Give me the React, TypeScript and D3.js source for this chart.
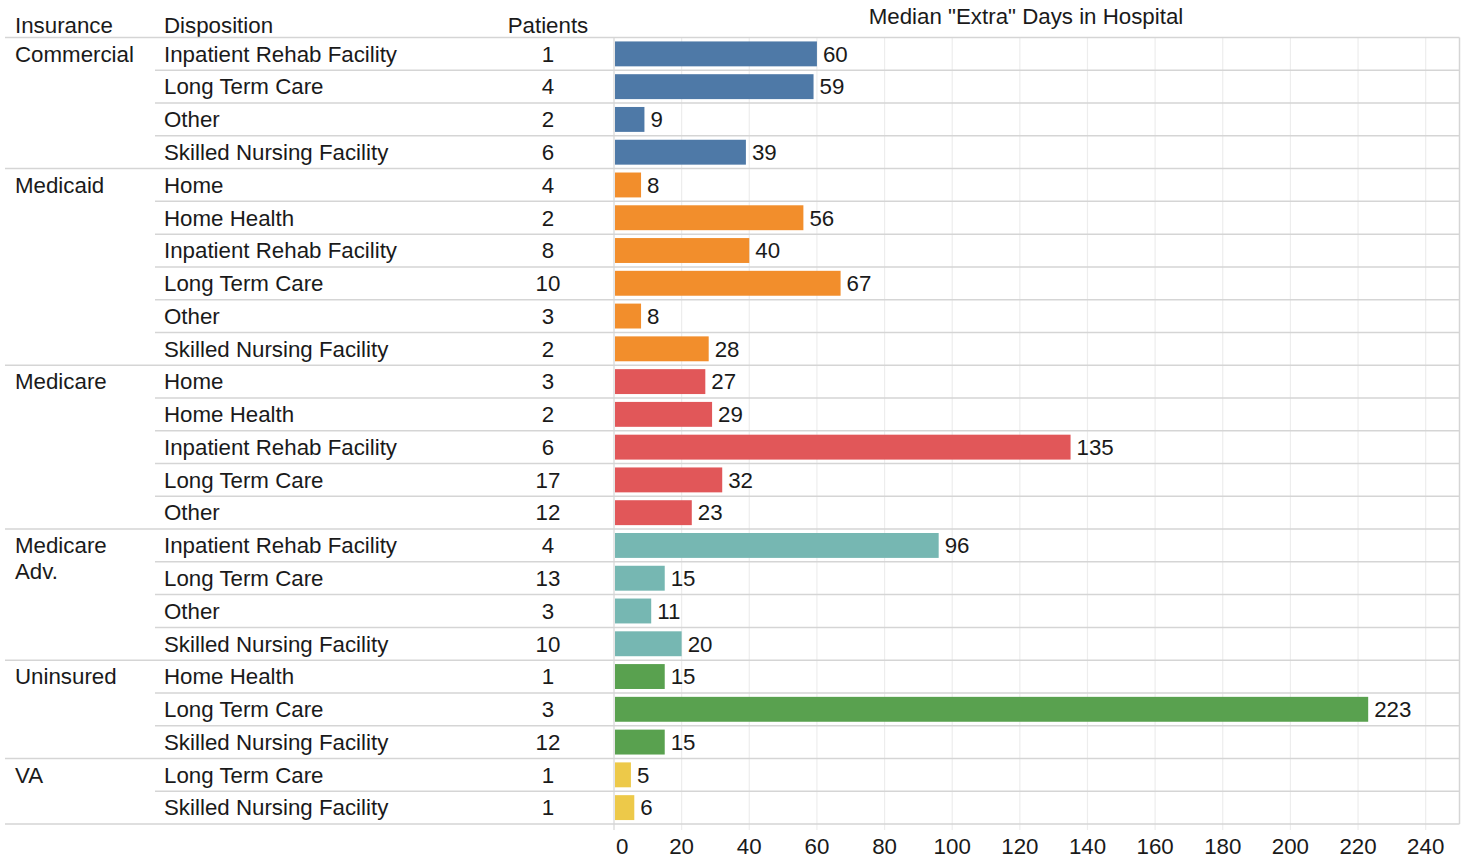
import * as d3 from "d3";

// Chart size
const width = 1468;
const height = 860;

// Row data, one entry per insurance/disposition pair
const insurance = [
    "Commercial", "Commercial", "Commercial", "Commercial",
    "Medicaid", "Medicaid", "Medicaid", "Medicaid", "Medicaid", "Medicaid",
    "Medicare", "Medicare", "Medicare", "Medicare", "Medicare",
    "Medicare Adv.", "Medicare Adv.", "Medicare Adv.", "Medicare Adv.",
    "Uninsured", "Uninsured", "Uninsured",
    "VA", "VA",
];
const dispositions = [
    "Inpatient Rehab Facility", "Long Term Care", "Other", "Skilled Nursing Facility",
    "Home", "Home Health", "Inpatient Rehab Facility", "Long Term Care", "Other", "Skilled Nursing Facility",
    "Home", "Home Health", "Inpatient Rehab Facility", "Long Term Care", "Other",
    "Inpatient Rehab Facility", "Long Term Care", "Other", "Skilled Nursing Facility",
    "Home Health", "Long Term Care", "Skilled Nursing Facility",
    "Long Term Care", "Skilled Nursing Facility",
];
const patients = [1, 4, 2, 6, 4, 2, 8, 10, 3, 2, 3, 2, 6, 17, 12, 4, 13, 3, 10, 1, 3, 12, 1, 1];
const extraDays = [60, 59, 9, 39, 8, 56, 40, 67, 8, 28, 27, 29, 135, 32, 23, 96, 15, 11, 20, 15, 223, 15, 5, 6];
const xTicks = [0, 20, 40, 60, 80, 100, 120, 140, 160, 180, 200, 220, 240];

const groups = Array.from(new Set(insurance));

// layout of the table
const top = 37.5;
const bottom = 824;
const left = 5;
const panelLeft = 614;
const panelRight = 1459.5;
const dispX = 164;
const dispLineX = 155;
const patientsX = 548;

const font = "'Liberation Sans', Arial, Helvetica, sans-serif";
const fontSize = 22.3;
const textColor = "#1a1a1a";
const lineColor = "#d5d5d5";
const gridColor = "#ededed";

export default function App() {
    const rows = d3.range(extraDays.length);

    const y = d3.scaleBand<number>()
        .domain(rows)
        .range([top, bottom])
        .paddingInner(0.24)
        .paddingOuter(0.12);
    const step = y.step();
    const rowTop = (i: number) => top + i * step;

    const x = d3.scaleLinear()
        .domain([0, 250])
        .range([panelLeft, panelRight]);

    const color = d3.scaleOrdinal<string, string>()
        .domain(groups)
        .range(d3.schemeTableau10);

    // first row of each group
    const groupStart = groups.map(g => insurance.indexOf(g));
    const baseline = (i: number) => rowTop(i) + step / 2 + 7.8;

    return (
        <svg width={width} height={height} style={{ position: "absolute", left: 0, top: 0 }}
            fontFamily={font} fontSize={fontSize} fill={textColor}>
            {/* headers */}
            <text x={15} y={33}>Insurance</text>
            <text x={dispX} y={33}>Disposition</text>
            <text x={patientsX} y={33} textAnchor="middle">Patients</text>
            <text x={1026} y={24} textAnchor="middle">Median "Extra" Days in Hospital</text>

            {/* vertical gridlines */}
            {xTicks.map(t => (
                <line key={t} x1={x(t)} x2={x(t)} y1={top} y2={bottom + 6}
                    stroke={t === 0 ? lineColor : gridColor} strokeWidth={1.2} />
            ))}

            {/* row separators */}
            {rows.map(i => {
                const isGroup = groupStart.includes(i);
                return (
                    <line key={i} x1={isGroup ? left : dispLineX} x2={panelRight}
                        y1={rowTop(i)} y2={rowTop(i)} stroke={lineColor} strokeWidth={1.5} />
                );
            })}
            <line x1={left} x2={panelRight} y1={bottom} y2={bottom} stroke={lineColor} strokeWidth={1.5} />
            <line x1={panelRight} x2={panelRight} y1={top} y2={bottom} stroke={lineColor} strokeWidth={1.5} />

            {/* insurance labels */}
            {groups.map((g, gi) => {
                const words = g === "Medicare Adv." ? ["Medicare", "Adv."] : [g];
                return (
                    <text key={g} x={15} y={baseline(groupStart[gi])}>
                        {words.map((w, wi) => (
                            <tspan key={wi} x={15} dy={wi === 0 ? 0 : 26}>{w}</tspan>
                        ))}
                    </text>
                );
            })}

            {/* disposition and patients */}
            {rows.map(i => (
                <g key={i}>
                    <text x={dispX} y={baseline(i)}>{dispositions[i]}</text>
                    <text x={patientsX} y={baseline(i)} textAnchor="middle">{patients[i]}</text>
                </g>
            ))}

            {/* bars */}
            {rows.map(i => (
                <g key={i}>
                    <rect x={x(0) + 1} y={y(i)} width={x(extraDays[i]) - x(0) - 1} height={y.bandwidth()}
                        fill={color(insurance[i])} />
                    <text x={x(extraDays[i]) + 6} y={baseline(i)}>{extraDays[i]}</text>
                </g>
            ))}

            {/* axis labels */}
            {xTicks.map(t => (
                <text key={t} x={t === 0 ? x(t) + 2 : x(t)} y={854}
                    textAnchor={t === 0 ? "start" : "middle"}>{t}</text>
            ))}
        </svg>
    );
}
